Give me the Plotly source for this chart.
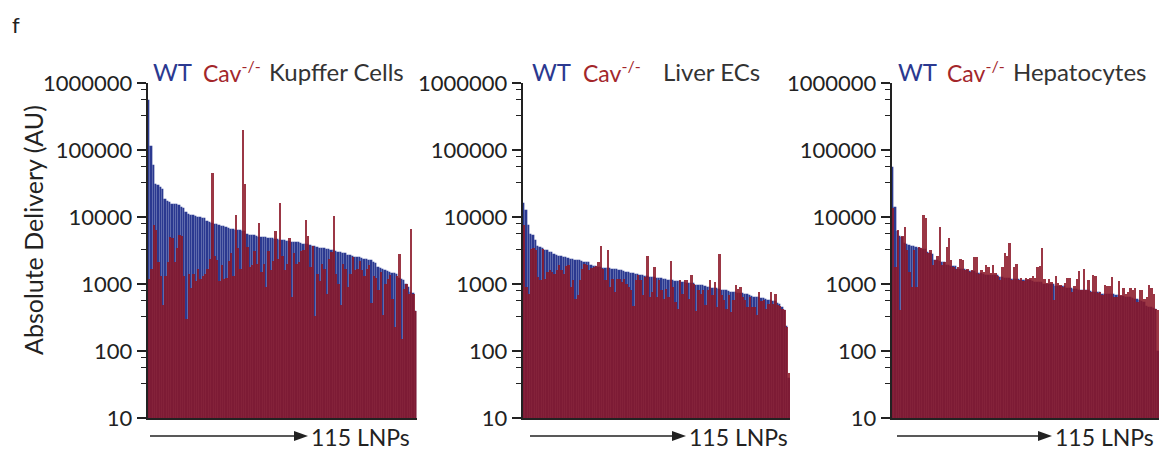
import plotly.graph_objects as go

# ---- data: absolute delivery (AU) for 115 LNPs, sorted by WT signal ----
lnp_index = list(range(1, 116))

kupffer_wt = [
    550000, 113000, 60000, 31000, 30000, 28000, 26000, 18500, 17500, 17000,
    15500, 15500, 15500, 15000, 14000, 13500, 12000, 11000, 10800, 10600,
    10200, 10000, 10000, 9800, 9600, 8800, 8500, 8200, 7900, 7800,
    7600, 7400, 7300, 7100, 6800, 6700, 6600, 6400, 6300, 6300,
    6200, 6100, 5500, 5400, 5400, 5300, 5200, 5100, 5100, 5000,
    5000, 4900, 4800, 4800, 4700, 4700, 4600, 4500, 4500, 4400,
    4400, 4300, 4300, 4200, 4200, 4100, 4000, 4000, 3900, 3800,
    3700, 3700, 3600, 3500, 3400, 3400, 3300, 3300, 3200, 3200,
    3100, 3000, 3000, 2900, 2900, 2700, 2700, 2600, 2550, 2500,
    2500, 2450, 2400, 2350, 2300, 2250, 2100, 2050, 1800, 1750,
    1650, 1600, 1550, 1500, 1480, 1450, 1400, 1250, 1200, 1150,
    1000, 900, 760, 740, 400,
]
kupffer_cav = [
    1200, 1650, 7700, 6500, 2100, 1300, 480, 1300, 2100, 5000,
    4800, 2100, 3400, 5400, 5200, 1300, 300, 1400, 880, 1400,
    1100, 1700, 1200, 1300, 1400, 1700, 2400, 45000, 2600, 2300,
    1100, 1900, 1200, 1250, 2200, 2900, 1300, 10600, 3500, 1700,
    200000, 31000, 3600, 1800, 1900, 3100, 2000, 8000, 1500, 2000,
    900, 3100, 1600, 2200, 6200, 2400, 16000, 2600, 1600, 2000,
    4800, 630, 2900, 2000, 2100, 3100, 3200, 9000, 5200, 1800,
    3700, 330, 1400, 1100, 2000, 1700, 700, 2400, 3000, 10200,
    1400, 1000, 480, 2000, 1700, 900, 1400, 2500, 1600, 1700,
    2200, 1600, 1300, 1700, 1900, 520, 1300, 1250, 800, 1500,
    340, 1000, 1200, 1350, 600, 230, 1300, 2800, 150, 850,
    1000, 700, 6700, 700, 390,
]

ec_wt = [
    16000, 12600, 7500, 5500, 5300, 4500, 3650, 3550, 3450, 3250,
    3200, 3050, 3000, 2800, 2750, 2650, 2600, 2550, 2500, 2450,
    2400, 2350, 2300, 2300, 2250, 2200, 2150, 2100, 2100, 1900,
    1880, 1850, 1800, 1780, 1760, 1750, 1740, 1720, 1700, 1680,
    1650, 1620, 1600, 1580, 1520, 1500, 1480, 1460, 1420, 1400,
    1380, 1360, 1330, 1300, 1290, 1280, 1270, 1250, 1230, 1220,
    1200, 1180, 1160, 1150, 1140, 1110, 1100, 1090, 1080, 1070,
    1050, 1040, 1030, 1020, 980, 970, 960, 950, 920, 910,
    900, 880, 870, 860, 850, 820, 810, 800, 790, 770,
    760, 750, 740, 740, 730, 720, 700, 680, 660, 650,
    640, 630, 620, 610, 600, 580, 570, 560, 550, 520,
    500, 460, 410, 240, 40,
]
ec_cav = [
    7500, 900, 700, 3300, 3400, 3200, 1270, 1160, 3370, 1200,
    1500, 1600, 1500, 1420, 1600, 1900, 1600, 1400, 1850, 1900,
    900, 1130, 600, 680, 1160, 1700, 2000, 1900, 1640, 1750,
    1800, 1850, 2100, 3650, 1700, 1130, 3250, 900, 1200, 760,
    1200, 1200, 1070, 1200, 1000, 900, 800, 470, 1130, 1340,
    1130, 680, 1270, 2580, 640, 760, 1800, 640, 1130, 800,
    600, 850, 640, 2180, 900, 540, 430, 1130, 720, 1130,
    1150, 600, 1340, 1000, 400, 800, 720, 800, 480, 800,
    1160, 680, 1080, 450, 2840, 680, 570, 430, 680, 380,
    570, 960, 850, 900, 640, 570, 450, 640, 450, 450,
    340, 760, 560, 570, 430, 510, 760, 500, 700, 480,
    470, 420, 410, 230, 47,
]

hep_wt = [
    56000, 13900, 6250, 5200, 5000, 4100, 3950, 3800, 3750, 3700,
    3600, 3500, 3400, 3300, 3300, 3050, 2900, 2800, 2300, 2300,
    2200, 2100, 2100, 1900, 1900, 1850, 1850, 1850, 1700, 1700,
    1650, 1650, 1600, 1580, 1560, 1550, 1450, 1450, 1440, 1430,
    1380, 1370, 1365, 1360, 1355, 1350, 1270, 1260, 1250, 1240,
    1210, 1205, 1200, 1195, 1190, 1160, 1155, 1150, 1145, 1140,
    1090, 1085, 1080, 1075, 1070, 1010, 1005, 1000, 995, 990,
    940, 935, 930, 925, 920, 870, 865, 860, 855, 850,
    825, 820, 815, 810, 805, 775, 770, 765, 760, 755,
    715, 712, 710, 707, 705, 700, 690, 680, 670, 660,
    650, 640, 630, 610, 600, 590, 580, 560, 540, 470,
    460, 450, 440, 430, 100,
]
hep_cav = [
    13500, 1800, 6400, 410, 5200, 7200, 3200, 1500, 910, 3200,
    910, 3600, 3400, 10700, 9600, 2900, 3200, 1900, 2300, 2600,
    7200, 1900, 2150, 3600, 4800, 2300, 1800, 1700, 1800, 2400,
    2300, 1620, 1700, 1520, 1620, 2550, 2500, 1400, 1620, 1520,
    1900, 1800, 1480, 1900, 1440, 1300, 1130, 1780, 2900, 2650,
    4050, 1150, 1800, 2000, 1150, 1250, 1120, 1220, 1180, 1220,
    1300, 1220, 1800, 1850, 3500, 1180, 1030, 1180, 1080, 580,
    1300, 1030, 970, 910, 1030, 1220, 1220, 770, 940, 1180,
    1580, 820, 1700, 820, 1150, 750, 1370, 1300, 730, 770,
    690, 970, 940, 940, 1270, 650, 650, 1100, 690, 860,
    710, 760, 860, 820, 860, 540, 800, 800, 590, 630,
    950, 880, 700, 420, 410,
]

panel_names = ["Kupffer Cells", "Liver ECs", "Hepatocytes"]
wt_series = [kupffer_wt, ec_wt, hep_wt]
cav_series = [kupffer_cav, ec_cav, hep_cav]

major_ticks = [10, 100, 1000, 10000, 100000, 1000000]
major_labels = ["10", "100", "1000", "10000", "100000", "1000000"]

# ---- styling ----
W, H = 1159, 451
MT, MB = 83, 33
FONT = "Lato"
BLUE = "#2b3990"
RED_FILL = "rgba(138,22,38,0.86)"
RED_TEXT = "#a3262b"
INK = "#222222"

plot_left = [147.5, 522.5, 891.5]
plot_right = [416.5, 790.0, 1159.0]


def xp(px):
    return px / W


def yp(py):
    return (H - MB - py) / (H - MT - MB)


minor_vals = []
for k in range(2, 7):
    for off in (0.1, 0.25, 0.49):
        minor_vals.append(10 ** (k - off))

fig = go.Figure()
layout_axes = {}

for i in range(3):
    sfx = "" if i == 0 else str(i + 1)
    xa, ya = "x" + sfx, "y" + sfx
    fig.add_trace(go.Bar(
        x=lnp_index, y=wt_series[i], xaxis=xa, yaxis=ya, width=1.0,
        marker=dict(color=BLUE, line=dict(width=0.3, color="rgba(190,200,255,0.2)")),
        showlegend=False, hoverinfo="skip",
    ))
    fig.add_trace(go.Bar(
        x=lnp_index, y=cav_series[i], xaxis=xa, yaxis=ya, width=1.0,
        marker=dict(color=RED_FILL, line=dict(width=0)),
        showlegend=False, hoverinfo="skip",
    ))
    layout_axes["xaxis" + sfx] = dict(
        domain=[xp(plot_left[i]), xp(plot_right[i])], anchor=ya,
        range=[0.5, 115.5], showline=True, linecolor=INK, linewidth=2,
        showticklabels=False, ticks="", showgrid=False, zeroline=False,
    )
    layout_axes["yaxis" + sfx] = dict(
        domain=[0, 1], anchor=xa, type="log", range=[1, 6],
        tickvals=major_ticks, ticktext=major_labels,
        showline=True, linecolor=INK, linewidth=1.5,
        ticks="outside", ticklen=9, tickwidth=1.5, tickcolor=INK,
        minor=dict(tickvals=minor_vals, ticks="outside", ticklen=5,
                   tickwidth=1.2, tickcolor=INK, showgrid=False),
        tickfont=dict(family=FONT, size=22, color=INK),
        showgrid=False, zeroline=False,
    )

annotations = []
title_y = yp(71)
wt_x = [151, 530, 896]
cav_x = [201, 581, 945]
name_x = [267, 661, 1011]
for i in range(3):
    annotations.append(dict(text="WT", x=xp(wt_x[i]), y=title_y, xref="paper", yref="paper",
                            xanchor="left", yanchor="middle", showarrow=False,
                            font=dict(family=FONT, size=24, color=BLUE)))
    annotations.append(dict(text="Cav<sup>-/-</sup>", x=xp(cav_x[i]), y=title_y, xref="paper",
                            yref="paper", xanchor="left", yanchor="middle", showarrow=False,
                            font=dict(family=FONT, size=23, color=RED_TEXT)))
    annotations.append(dict(text=panel_names[i], x=xp(name_x[i]), y=title_y, xref="paper",
                            yref="paper", xanchor="left", yanchor="middle", showarrow=False,
                            font=dict(family=FONT, size=24, color="#333333")))

# "115 LNPs" arrows under each panel
shapes = []
arrow_y = 436
arrow_start = [150, 530, 897]
arrow_tip = [308, 686, 1052]
for i in range(3):
    tip = arrow_tip[i]
    shapes.append(dict(type="line", xref="paper", yref="paper",
                       x0=xp(arrow_start[i]), x1=xp(tip - 12), y0=yp(arrow_y), y1=yp(arrow_y),
                       line=dict(color=INK, width=1.3)))
    shapes.append(dict(type="path", xref="paper", yref="paper",
                       path=(f"M {xp(tip - 14)},{yp(arrow_y - 5)} L {xp(tip)},{yp(arrow_y)} "
                             f"L {xp(tip - 14)},{yp(arrow_y + 5)} Z"),
                       fillcolor=INK, line=dict(width=0)))
    annotations.append(dict(text="115 LNPs", x=xp(tip + 1), y=yp(arrow_y + 1), xref="paper",
                            yref="paper", xanchor="left", yanchor="middle", showarrow=False,
                            font=dict(family=FONT, size=23, color=INK)))

annotations.append(dict(text="Absolute Delivery (AU)", x=xp(33), y=yp(230), xref="paper",
                        yref="paper", xanchor="center", yanchor="middle", textangle=-90,
                        showarrow=False, font=dict(family=FONT, size=25, color=INK)))
annotations.append(dict(text="f", x=xp(10), y=yp(24), xref="paper", yref="paper",
                        xanchor="left", yanchor="middle", showarrow=False,
                        font=dict(family=FONT, size=22, color=INK)))

fig.update_layout(
    width=W, height=H,
    margin=dict(l=0, r=0, t=MT, b=MB, pad=0),
    paper_bgcolor="white", plot_bgcolor="white",
    barmode="overlay", bargap=0,
    annotations=annotations, shapes=shapes,
    **layout_axes,
)

fig.write_html("out.html")
